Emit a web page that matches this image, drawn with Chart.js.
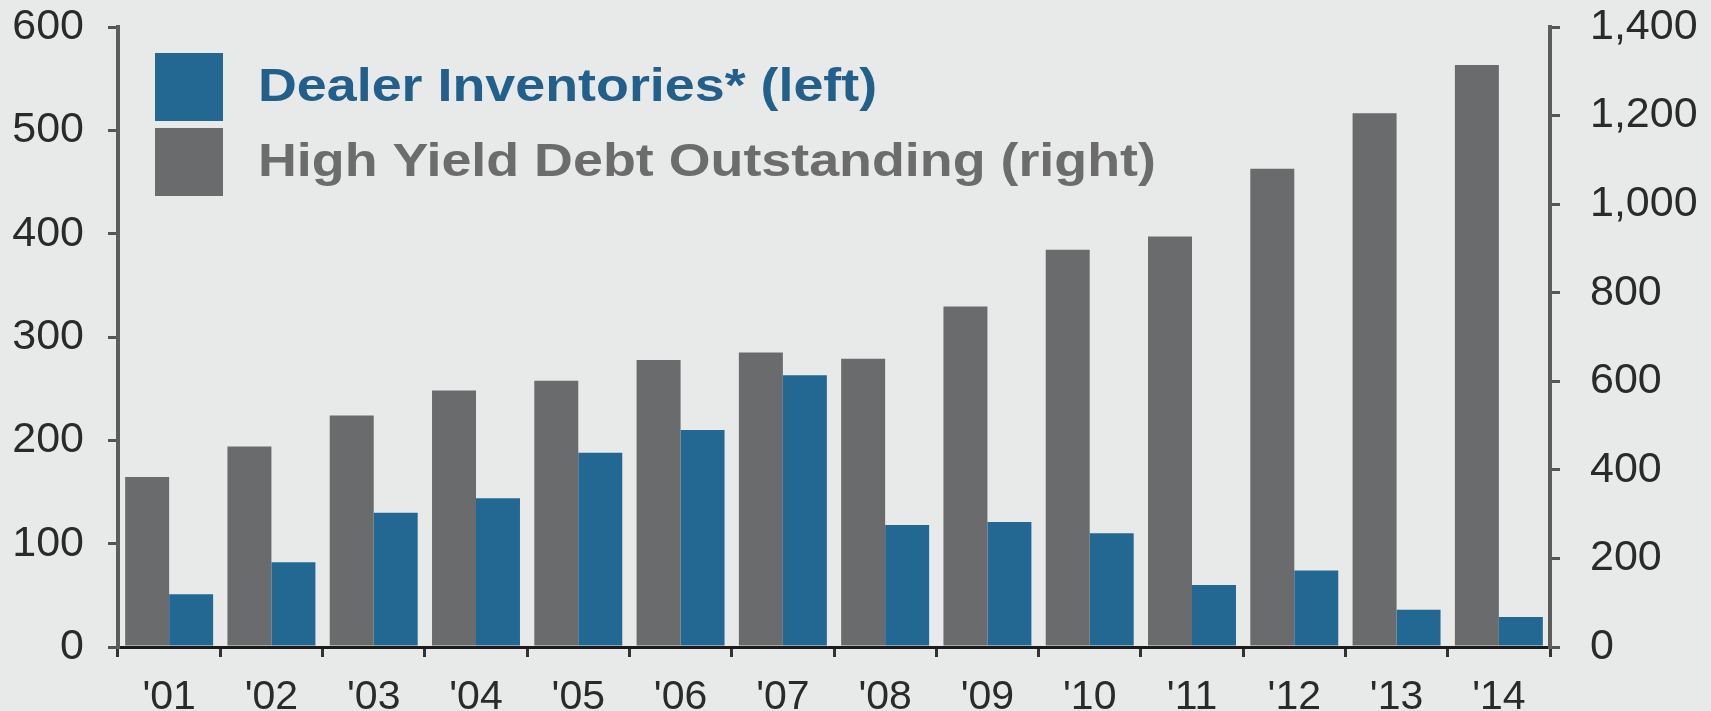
<!DOCTYPE html>
<html>
<head>
<meta charset="utf-8">
<script src="https://cdn.jsdelivr.net/npm/chart.js@4/dist/chart.umd.min.js"></script>
<style>
  html, body { margin: 0; padding: 0; background: #e8eae9; }
  #wrap { width: 1711px; height: 711px; }
</style>
</head>
<body>
<div id="wrap"><canvas id="chart" width="1711" height="711"></canvas></div>
<script>
const years = ["'01", "'02", "'03", "'04", "'05", "'06", "'07", "'08", "'09", "'10", "'11", "'12", "'13", "'14"];
const dealerInventories = [51, 82, 130, 144, 188, 210, 263, 118, 121, 110, 60, 74, 36, 29];
const highYieldDebt = [384, 453, 523, 579, 601, 648, 665, 651, 769, 897, 927, 1080, 1205, 1314];
const leftTicks = [0, 100, 200, 300, 400, 500, 600];
const rightTicks = [0, 200, 400, 600, 800, 1000, 1200, 1400];

const BLUE = '#236793';
const GREY = '#6a6b6c';

// legend drawn in the plot corner, blue item first
const legendBoxes = {
    id: 'legendBoxes',
    afterDatasetsDraw(chart) {
        const ctx = chart.ctx;
        const area = chart.chartArea;
        const items = [chart.data.datasets[1], chart.data.datasets[0]];
        let y = area.top + 26;
        ctx.save();
        items.forEach(ds => {
            ctx.fillStyle = ds.backgroundColor;
            ctx.fillRect(area.left + 37, y, 68, 68);
            ctx.save();
            ctx.translate(area.left + 140, y + 35);
            ctx.scale(1.17, 1);
            ctx.font = 'bold 46px "Liberation Sans", Arial, sans-serif';
            ctx.textBaseline = 'middle';
            ctx.fillStyle = ds.legendColor;
            ctx.fillText(ds.label, 0, 0);
            ctx.restore();
            y += 75;
        });
        ctx.restore();
    }
};

function fixY(width) {
    return scale => {
        scale.width = width;
        scale.paddingTop = 0;
        scale.paddingBottom = 0;
    };
}

const ctx = document.getElementById('chart');
new Chart(ctx, {
    type: 'bar',
    data: {
        labels: years,
        datasets: [
            {
                label: 'High Yield Debt Outstanding (right)',
                data: highYieldDebt,
                yAxisID: 'y1',
                backgroundColor: GREY,
                legendColor: '#6c6c6c',
                categoryPercentage: 0.86,
                barPercentage: 1.0
            },
            {
                label: 'Dealer Inventories* (left)',
                data: dealerInventories,
                yAxisID: 'y',
                backgroundColor: BLUE,
                legendColor: '#225f8a',
                categoryPercentage: 0.86,
                barPercentage: 1.0
            }
        ]
    },
    options: {
        responsive: false,
        animation: false,
        layout: { padding: { top: 27, left: 0, right: 0, bottom: 0 } },
        plugins: {
            legend: { display: false },
            tooltip: { enabled: false }
        },
        scales: {
            x: {
                offset: true,
                grid: {
                    display: true,
                    offset: true,
                    drawOnChartArea: false,
                    drawTicks: true,
                    tickLength: 10,
                    color: '#333',
                    lineWidth: 3
                },
                border: { display: true, color: '#1c1c1c', width: 3 },
                ticks: {
                    color: '#2a2a2a',
                    padding: 16,
                    font: { family: '"Liberation Sans", Arial, sans-serif', size: 41 }
                },
                afterFit(scale) { scale.height = 64; }
            },
            y: {
                position: 'left',
                min: 0,
                max: 600,
                afterBuildTicks(scale) { scale.ticks = leftTicks.map(v => ({ value: v })); },
                grid: {
                    display: true,
                    drawOnChartArea: false,
                    drawTicks: true,
                    tickLength: 10,
                    color: '#555',
                    lineWidth: 3
                },
                border: { display: true, color: '#5c5c5c', width: 4 },
                ticks: {
                    color: '#2a2a2a',
                    padding: 24,
                    font: { family: '"Liberation Sans", Arial, sans-serif', size: 43 }
                },
                afterFit: fixY(118)
            },
            y1: {
                position: 'right',
                min: 0,
                max: 1400,
                afterBuildTicks(scale) { scale.ticks = rightTicks.map(v => ({ value: v })); },
                grid: {
                    display: true,
                    drawOnChartArea: false,
                    drawTicks: true,
                    tickLength: 10,
                    color: '#555',
                    lineWidth: 3
                },
                border: { display: true, color: '#5c5c5c', width: 4 },
                ticks: {
                    color: '#2a2a2a',
                    padding: 30,
                    font: { family: '"Liberation Sans", Arial, sans-serif', size: 43 },
                    callback: v => v.toLocaleString('en-US')
                },
                afterFit: fixY(161)
            }
        }
    },
    plugins: [legendBoxes]
});
</script>
</body>
</html>
